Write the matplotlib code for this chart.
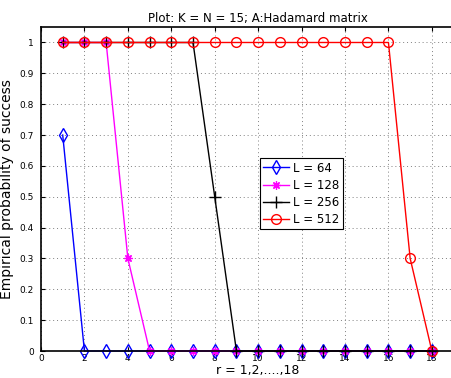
import numpy as np
import matplotlib.pyplot as plt

r = np.arange(1, 19)
p64 = [0.7] + [0] * 17
p128 = [1, 1, 1, 0.3] + [0] * 14
p256 = [1] * 7 + [0.5] + [0] * 10
p512 = [1] * 16 + [0.3, 0]

fig = plt.figure(figsize=(4.51, 3.78), dpi=100)
ax = fig.add_axes([0.0909, 0.0714, 0.963, 0.857])

ax.plot(r, p64, color='blue', marker='d', mfc='none', ms=7, lw=1, label='L = 64', clip_on=False)
ax.plot(r, p128, color='magenta', marker=(8, 2, 0), ms=6, mew=0.9, lw=1, label='L = 128', clip_on=False)
ax.plot(r, p256, color='black', marker='+', ms=8, lw=1, label='L = 256', clip_on=False)
ax.plot(r, p512, color='red', marker='o', mfc='none', ms=7, lw=1, label='L = 512', clip_on=False)

ax.set_xlim(0, 20)
ax.set_ylim(0, 1.05)
ax.set_xticks(np.arange(0, 19, 2))
ax.set_yticks(np.arange(0, 1.01, 0.1))
ax.set_yticklabels(['0', '0.1', '0.2', '0.3', '0.4', '0.5', '0.6', '0.7', '0.8', '0.9', '1'])
ax.tick_params(direction='in', top=True, right=True, labelsize=6.5, length=3)
ax.tick_params(axis='x', pad=2)
ax.tick_params(axis='y', pad=5)
ax.grid(True, linestyle=(0, (1, 3)), color='gray', lw=0.7)
for s in ax.spines.values():
    s.set_linewidth(1.2)

ax.set_title('Plot: K = N = 15; A:Hadamard matrix', fontsize=8.5, pad=4)
ax.set_xlabel('r = 1,2,....,18', fontsize=9, labelpad=1)
ax.set_ylabel('Empirical probability of success', fontsize=10, labelpad=4)

leg = ax.legend(loc='upper left', bbox_to_anchor=(0.49, 0.614), fontsize=8.5,
                fancybox=False, framealpha=1, edgecolor='black',
                handlelength=2.2, handletextpad=0.3, borderpad=0.3, labelspacing=0.35)
leg.get_frame().set_linewidth(0.8)

fig.savefig('out.png', dpi=100)
